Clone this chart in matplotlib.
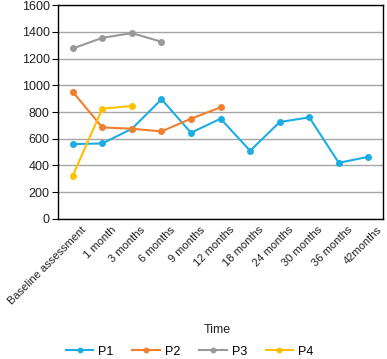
import matplotlib
matplotlib.use("Agg")
import matplotlib.pyplot as plt
import matplotlib.transforms as mtransforms
import numpy as np

plt.rcParams['font.family'] = ['Liberation Sans', 'DejaVu Sans']

# Data
times = ['Baseline assessment', '1 month', '3 months', '6 months', '9 months',
         '12 months', '18 months', '24 months', '30 months', '36 months', '42months']
p1 = [560, 565, 675, 895, 645, 750, 510, 725, 760, 420, 465]
p2 = [950, 685, 675, 655, 750, 835]
p3 = [1275, 1355, 1390, 1325]
p4 = [325, 825, 845]

series = [('P1', p1, '#1CADE4'), ('P2', p2, '#F07F2F'),
          ('P3', p3, '#999999'), ('P4', p4, '#FFC000')]

fig = plt.figure(figsize=(3.87, 3.59), dpi=100)
ax = fig.add_axes([0.150, 0.390, 0.840, 0.596])

x = np.arange(len(times))
for name, vals, col in series:
    ax.plot(x[:len(vals)], vals, color=col, marker='o', markersize=4,
            linewidth=1.5, label=name)

ax.set_xlim(-0.5, len(times) - 0.5)
ax.set_ylim(0, 1600)
ax.set_yticks(range(0, 1601, 200))
ax.yaxis.grid(True, color='#A6A6A6', linewidth=1)
ax.set_axisbelow(True)
for s in ax.spines.values():
    s.set_color('black')
    s.set_linewidth(1)

ax.tick_params(axis='x', length=0, pad=4)
ax.tick_params(axis='y', length=4, labelsize=9, direction='out', pad=2,
               labelcolor='#222222')
ax.set_xticks(x)
ax.set_xticklabels(times, rotation=45, ha='right', rotation_mode='anchor',
                   fontsize=8, color='#222222')
# nudge rotated labels a little to the right
offset = mtransforms.ScaledTranslation(6 / 72, 0, fig.dpi_scale_trans)
for lbl in ax.get_xticklabels():
    lbl.set_transform(lbl.get_transform() + offset)
ax.set_xlabel('Time', fontsize=9, color='#222222')
ax.xaxis.set_label_coords(0.49, -0.49)

fig.legend(loc='center', bbox_to_anchor=(0.49, 0.02), ncol=4, frameon=False,
           fontsize=9, handlelength=2.2, handletextpad=0.4, columnspacing=1.5,
           markerscale=0.8)

fig.savefig('out.png', dpi=100)
